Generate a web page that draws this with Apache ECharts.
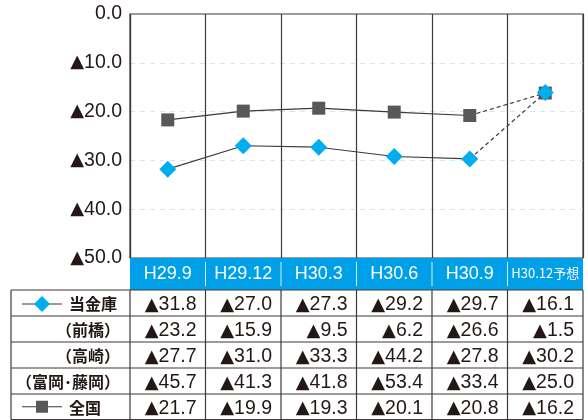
<!DOCTYPE html>
<html><head><meta charset="utf-8">
<script src="https://cdn.jsdelivr.net/npm/echarts@6/dist/echarts.min.js"></script>
<style>html,body{margin:0;padding:0;background:#fff}#c{width:588px;height:420px}</style>
</head><body><div id="c"></div>
<script>
const categories = ['H29.9','H29.12','H30.3','H30.6','H30.9','H30.12予想'];
const tokinko = [-31.8,-27.0,-27.3,-29.2,-29.7,-16.1];
const maebashi = [-23.2,-15.9,-9.5,-6.2,-26.6,-1.5];
const takasaki = [-27.7,-31.0,-33.3,-44.2,-27.8,-30.2];
const tomioka = [-45.7,-41.3,-41.8,-53.4,-33.4,-25.0];
const zenkoku = [-21.7,-19.9,-19.3,-20.1,-20.8,-16.2];
const rowLabels = ['当金庫','（前橋）','（高崎）','（富岡･藤岡）','全国'];
const yMin = -50, yMax = 0, yStep = 10;

const TXT = '#231815';
const BLUE = '#00a0e9';
const DIA = '#00aeef';
const SQ = '#595757';
const NUM_FONT = 'Liberation Sans, Arial, sans-serif';
const JP_FONT = '"Noto Sans CJK JP", sans-serif';

function fmtRich(v){ return v < 0 ? '{t|▲}{n|' + Math.abs(v).toFixed(1) + '}' : '{n|' + v.toFixed(1) + '}'; }
function solidPart(arr){ return arr.map((v,i)=> i < arr.length-1 ? v : null); }
function dashPart(arr){ const n = arr.length; return arr.map((v,i)=> i === n-2 ? {value:v, symbol:'none'} : (i === n-1 ? v : null)); }

const chart = echarts.init(document.getElementById('c'), null, {renderer:'canvas'});
const gridTop = 14, gridBottomY = 258, gridLeft = 130, gridRight = 583;
chart.setOption({
  animation:false,
  grid:{left:gridLeft, right:588-gridRight, top:gridTop, bottom:420-gridBottomY, show:true, borderColor:'#3e3a39', borderWidth:1.2, backgroundColor:'transparent'},
  xAxis:{type:'category', data:categories, boundaryGap:true, z:10,
    axisLine:{show:false}, axisTick:{show:false},
    splitLine:{show:true, interval:0, lineStyle:{color:'#3e3a39', width:1.2}},
    axisLabel:{interval:0, color:'#fff', fontSize:18, fontFamily:NUM_FONT, margin:7,
      formatter:(v)=> v.indexOf('予想')>=0 ? '{s|'+v+'}' : v,
      rich:{s:{color:'#fff', fontSize:13, fontFamily:'"Liberation Sans Narrow", "Noto Sans CJK JP", sans-serif', padding:[2,0,0,0]}}}
  },
  yAxis:{type:'value', min:yMin, max:yMax, interval:yStep,
    axisLine:{show:true, lineStyle:{color:'#3e3a39', width:1.2}}, axisTick:{show:false},
    splitLine:{show:true, lineStyle:{color:['#cde7f7','#cde7f7','#cde7f7','#cde7f7','#cde7f7','rgba(0,0,0,0)'], type:[5,5], width:1}},
    axisLabel:{color:TXT, margin:8, formatter:(v)=>fmtRich(v),
      rich:{t:{fontFamily:'DejaVu Sans', fontSize:18, color:TXT}, n:{fontFamily:NUM_FONT, fontSize:19.5, color:TXT}}}
  },
  series:[
    {name:'全国', type:'line', data:solidPart(zenkoku), z:3, symbol:'rect', symbolSize:13,
      itemStyle:{color:SQ}, lineStyle:{color:'#3e3a39', width:1.2}, connectNulls:false},
    {name:'全国予想', type:'line', data:dashPart(zenkoku), z:3, symbol:'rect', symbolSize:13,
      itemStyle:{color:SQ}, lineStyle:{color:'#3e3a39', width:1.2, type:[4,3]}},
    {name:'当金庫', type:'line', data:solidPart(tokinko), z:4, symbol:'diamond', symbolSize:17,
      itemStyle:{color:DIA}, lineStyle:{color:'#3e3a39', width:1.2}},
    {name:'当金庫予想', type:'line', data:dashPart(tokinko), z:4, symbol:'diamond', symbolSize:17,
      itemStyle:{color:DIA}, lineStyle:{color:'#3e3a39', width:1.2, type:[4,3]}}
  ]
});

const x0 = chart.convertToPixel({xAxisIndex:0}, 0);
const x1 = chart.convertToPixel({xAxisIndex:0}, 1);
const bw = x1 - x0;
const centers = categories.map((c,i)=> chart.convertToPixel({xAxisIndex:0}, i));
const bounds = [centers[0]-bw/2].concat(centers.map(c=> c+bw/2));
const bandTop = gridBottomY, bandBottom = 290;
const rowTops = [290, 316, 342, 368, 394, 419.5];
const tableLeft = 11;
const rows = [tokinko, maebashi, takasaki, tomioka, zenkoku];
const g = [];
g.push({type:'rect', z:1, shape:{x:bounds[0], y:bandTop, width:bounds[bounds.length-1]-bounds[0], height:bandBottom-bandTop}, style:{fill:BLUE}});
for (let i=1;i<bounds.length-1;i++){
  g.push({type:'line', z:2, shape:{x1:bounds[i], y1:bandTop+4, x2:bounds[i], y2:bandBottom-4}, style:{stroke:'rgba(255,255,255,0.85)', lineWidth:1}});
}
rowTops.forEach(y=> g.push({type:'line', z:2, shape:{x1:tableLeft, y1:y, x2:bounds[bounds.length-1], y2:y}, style:{stroke:'#3e3a39', lineWidth:1.2}}));
[tableLeft].concat(bounds).forEach(x=> g.push({type:'line', z:2, shape:{x1:x, y1:rowTops[0], x2:x, y2:rowTops[rowTops.length-1]}, style:{stroke:'#3e3a39', lineWidth:1.2}}));
rows.forEach((arr,r)=>{
  const cy = (rowTops[r]+rowTops[r+1])/2 + 2;
  arr.forEach((v,i)=>{
    g.push({type:'text', z:3, x:bounds[i+1]-9, y:cy, style:{text:fmtRich(v), align:'right', verticalAlign:'middle',
      rich:{t:{fontFamily:'DejaVu Sans', fontSize:18, fill:TXT}, n:{fontFamily:NUM_FONT, fontSize:19.5, fill:TXT}}}});
  });
});
rowLabels.forEach((lab,r)=>{
  const cy = (rowTops[r]+rowTops[r+1])/2 + 1;
  const isSeries = (r===0 || r===4);
  g.push({type:'text', z:3, x: isSeries ? 69 : 120, y:cy, style:{text:lab, fill:TXT, fontSize:16, fontWeight:'bold', fontFamily:JP_FONT, align: isSeries ? 'left':'right', verticalAlign:'middle'}});
});
const cy0 = (rowTops[0]+rowTops[1])/2 + 1, cy4 = (rowTops[4]+rowTops[5])/2;
g.push({type:'line', z:3, shape:{x1:22, y1:cy0, x2:62, y2:cy0}, style:{stroke:'#3e3a39', lineWidth:1.2}});
g.push({type:'polygon', z:4, shape:{points:[[42,cy0-8],[50,cy0],[42,cy0+8],[34,cy0]]}, style:{fill:DIA}});
g.push({type:'line', z:3, shape:{x1:22, y1:cy4, x2:62, y2:cy4}, style:{stroke:'#3e3a39', lineWidth:1.2}});
g.push({type:'rect', z:4, shape:{x:36, y:cy4-6, width:12, height:12}, style:{fill:SQ}});
chart.setOption({graphic:g});
</script>
</body></html>
